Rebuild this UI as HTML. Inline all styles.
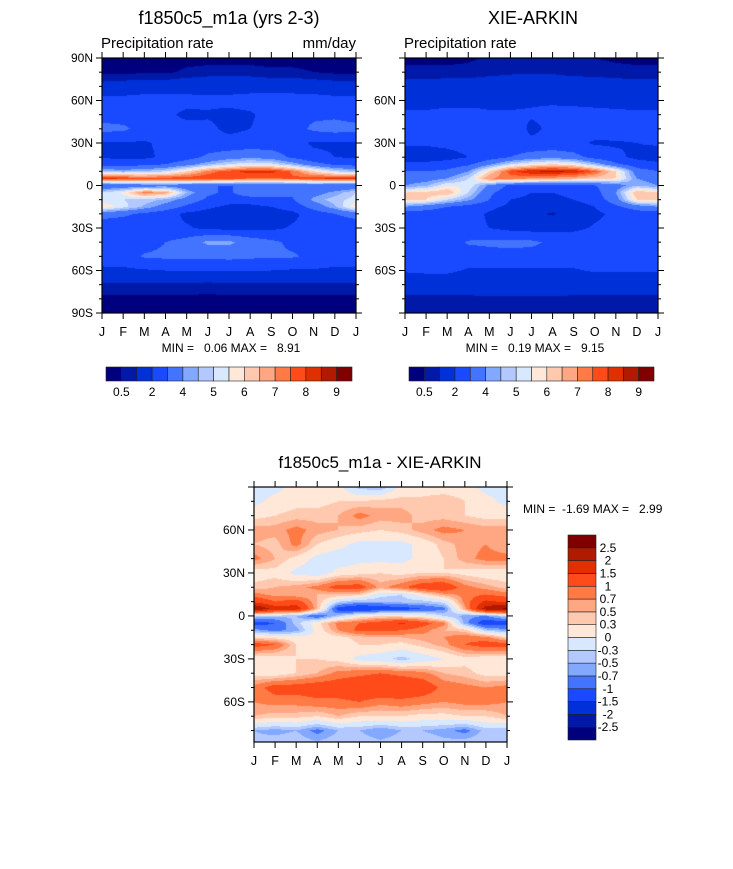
<!DOCTYPE html>
<html><head><meta charset="utf-8">
<style>
html,body{margin:0;padding:0;background:#fff;}
body{width:733px;height:869px;position:relative;overflow:hidden;font-family:"Liberation Sans",Arial,sans-serif;}
svg{position:absolute;left:0;top:0;}
svg text{white-space:pre;}
canvas{position:absolute;}
</style></head>
<body>
<canvas id="c1" style="left:102px;top:58px" width="254" height="255"></canvas>
<canvas id="c2" style="left:405px;top:58px" width="253" height="255"></canvas>
<canvas id="c3" style="left:254px;top:487px" width="253" height="255"></canvas>
<svg id="ov" width="733" height="869"></svg>
<script>
const months = ["J","F","M","A","M","J","J","A","S","O","N","D","J"];
const lats = [90,80,70,60,50,40,30,20,15,10,5,0,-5,-10,-15,-20,-30,-40,-50,-60,-70,-80,-90];
const precipLevels = [0.5,1,2,3,4,4.5,5,5.5,6,6.5,7,7.5,8,8.5,9];
const precipLabels = ["0.5","","2","","4","","5","","6","","7","","8","","9"];
const diffLevels = [-2.5,-2,-1.5,-1,-0.7,-0.5,-0.3,0,0.3,0.5,0.7,1,1.5,2,2.5];
const diffLabels = ["-2.5","-2","-1.5","-1","-0.7","-0.5","-0.3","0","0.3","0.5","0.7","1","1.5","2","2.5"];
const colors = ["#00007f","#0019a8","#0030d8","#1a4aff","#4274ff","#82a8ff","#b2c8ff","#d8e8ff","#ffe8d8","#ffc9b0","#ffa782","#ff7a44","#ff4a1a","#e03000","#b01a00","#800000"];
const modelVals = [
[0.3,0.3,0.3,0.3,0.3,0.3,0.3,0.3,0.3,0.3,0.3,0.3],
[0.4,0.4,0.4,0.4,0.6,0.7,0.7,0.7,0.6,0.6,0.5,0.4],
[1.3,1.4,1.5,1.5,1.6,1.7,1.7,1.7,1.6,1.6,1.5,1.4],
[2.3,2.3,2.4,2.4,2.3,2.2,2.2,2.3,2.4,2.4,2.4,2.3],
[2.6,2.5,2.4,2.2,1.8,1.9,1.8,1.9,2.3,2.5,2.8,2.8],
[3.3,3.2,2.6,2.4,2.3,2.2,1.8,2.0,2.3,2.6,3.2,3.4],
[1.9,1.9,1.9,2.2,2.5,2.4,2.3,2.4,2.4,2.2,1.9,1.9],
[1.9,1.8,1.8,2.2,2.6,3.2,3.6,3.8,3.6,2.8,2.2,2.0],
[2.6,2.6,2.7,3.0,3.6,4.4,5.0,5.4,5.2,4.4,3.4,2.8],
[4.6,4.4,4.6,5.0,6.0,7.2,7.8,8.2,8.2,7.4,6.0,5.0],
[8.2,8.0,7.8,7.8,7.9,8.0,7.8,7.5,7.5,7.6,7.9,8.2],
[3.0,3.2,3.4,3.6,3.2,3.0,3.0,3.0,3.0,3.2,3.2,3.0],
[5.0,5.6,7.2,6.8,4.5,3.2,2.8,3.8,3.8,3.2,3.6,4.2],
[5.2,5.0,4.8,4.4,3.6,2.8,2.4,2.4,2.6,2.9,4.2,4.8],
[6.0,5.2,4.4,3.6,2.8,2.2,1.8,1.8,2.0,2.4,3.4,4.4],
[3.4,3.2,2.8,2.4,1.8,1.6,1.4,1.5,1.6,1.8,2.4,3.0],
[2.3,2.3,2.2,2.2,2.1,1.8,1.7,1.7,1.8,2.1,2.2,2.2],
[2.4,2.5,2.6,3.0,3.4,4.2,4.2,3.6,3.2,2.8,2.6,2.5],
[2.5,2.6,3.1,3.2,3.2,3.2,3.3,3.2,3.1,3.1,2.8,2.6],
[1.8,1.8,1.9,2.0,2.0,2.0,2.0,2.0,2.0,1.9,1.9,1.8],
[0.9,0.9,0.9,0.9,0.9,0.8,0.9,0.9,0.9,0.9,0.9,0.9],
[0.35,0.35,0.35,0.35,0.35,0.35,0.35,0.35,0.35,0.35,0.35,0.35],
[0.3,0.3,0.3,0.3,0.3,0.3,0.3,0.3,0.3,0.3,0.3,0.3]];
const obsVals = [
[0.3,0.3,0.3,0.4,0.6,0.7,0.8,0.7,0.6,0.5,0.4,0.3],
[0.7,0.7,0.7,0.7,0.8,0.9,0.9,0.9,0.8,0.8,0.7,0.7],
[1.3,1.3,1.4,1.4,1.5,1.5,1.6,1.6,1.5,1.4,1.4,1.3],
[1.6,1.6,1.7,1.7,1.8,1.8,1.9,1.9,1.8,1.7,1.7,1.6],
[2.2,2.2,2.3,2.3,2.1,2.1,2.1,2.2,2.3,2.3,2.2,2.2],
[2.4,2.3,2.3,2.3,2.4,2.6,1.8,2.2,2.5,2.4,2.5,2.5],
[2.1,2.1,2.2,2.3,2.4,2.3,2.2,2.3,2.2,1.9,1.9,2.0],
[1.6,1.6,1.7,2.0,2.5,3.0,3.5,3.7,3.4,2.6,2.2,1.8],
[2.2,2.2,2.4,2.8,3.8,5.0,5.6,6.0,5.6,4.5,3.2,2.4],
[3.0,3.0,3.2,4.0,6.0,7.8,8.5,8.6,8.5,7.6,6.0,3.5],
[3.5,3.6,4.0,5.0,7.0,7.2,7.0,6.8,6.6,6.2,6.0,4.0],
[4.0,4.4,5.5,5.4,3.8,2.8,2.5,2.5,2.6,3.0,3.5,4.5],
[6.0,6.2,6.5,5.0,3.2,2.4,2.0,2.0,2.2,2.6,4.0,6.5],
[6.0,6.0,5.0,4.2,3.0,2.0,1.8,1.8,2.0,2.4,3.6,6.0],
[4.0,3.5,3.0,2.6,2.2,1.8,1.6,1.4,1.6,2.0,2.8,3.5],
[2.5,2.5,2.4,2.3,1.9,1.5,1.2,0.9,1.4,1.8,2.2,2.5],
[2.3,2.3,2.3,2.2,2.0,1.7,1.6,1.7,1.8,2.1,2.3,2.3],
[2.4,2.5,2.6,3.1,3.2,3.3,3.2,2.8,2.6,2.5,2.4,2.4],
[2.5,2.5,2.5,2.5,2.6,2.6,2.6,2.6,2.5,2.6,2.6,2.5],
[2.1,2.2,2.2,1.9,1.9,1.9,1.9,1.9,1.9,2.1,2.1,2.1],
[1.3,1.3,1.3,1.3,1.4,1.4,1.4,1.4,1.3,1.3,1.3,1.3],
[0.9,0.9,0.9,0.9,0.9,0.9,0.9,0.9,0.9,0.9,0.9,0.9],
[0.5,0.5,0.5,0.5,0.6,0.6,0.5,0.6,0.6,0.5,0.5,0.5]];
const diffVals = [
[-0.1,-0.1,0.1,0.1,0.1,-0.4,-0.5,0.1,0.1,0.1,0.1,-0.1],
[-0.1,0.1,0.2,0.2,0.3,0.3,0.4,0.4,0.4,0.5,0.3,0.1],
[0.2,0.3,0.4,0.4,0.5,0.8,0.6,0.6,0.4,0.4,0.3,0.2],
[0.6,0.6,0.8,0.6,0.5,0.4,0.3,0.4,0.6,0.8,0.7,0.6],
[0.5,0.4,0.8,0.3,0.1,-0.1,-0.1,-0.1,0.1,0.4,0.6,0.7],
[0.8,0.5,0.2,-0.1,-0.2,-0.1,-0.1,-0.1,0.1,0.3,0.6,0.8],
[0.1,0.2,-0.1,-0.2,0.1,0.2,0.3,0.2,0.3,0.3,0.2,0.1],
[0.4,0.5,0.6,0.8,1.2,1.2,0.6,0.9,1.3,1.4,0.8,0.6],
[0.8,0.6,0.5,0.5,0.5,0.4,-0.2,-0.3,0.2,0.6,0.8,1.0],
[1.4,1.0,1.2,0.5,-0.3,-0.5,-0.5,-0.4,-0.4,-0.2,0.8,1.6],
[2.6,1.8,1.8,0.5,-1.2,-1.5,-1.3,-1.2,-1.0,-0.8,0.6,2.3],
[-0.3,-0.4,-0.5,-1.0,-0.4,0.1,0.3,0.2,0.1,-0.3,-0.6,-0.7],
[-1.2,-1.0,-0.4,0.2,0.8,1.0,1.2,1.6,1.2,0.8,-0.6,-1.3],
[-0.6,-0.8,-0.6,0.1,0.7,1.1,1.1,1.0,0.8,0.5,0.4,-0.4],
[0.3,0.2,0.1,0.1,0.2,0.4,0.5,0.5,0.6,0.7,0.9,0.8],
[1.2,1.0,0.3,0.2,0.1,0.3,0.3,0.2,0.4,0.6,1.0,1.2],
[0.1,0.1,0.3,0.3,0.2,-0.1,-0.2,-0.4,-0.2,0.0,0.2,0.1],
[0.2,0.1,0.3,0.5,0.8,0.9,1.0,0.9,0.8,0.5,0.4,0.2],
[0.8,1.2,1.2,1.3,1.3,1.4,1.5,1.4,1.3,0.9,0.8,0.7],
[0.7,0.8,0.8,0.9,0.9,1.0,0.8,0.9,0.8,0.7,0.8,0.8],
[0.5,0.4,0.4,0.3,0.5,0.3,0.3,0.3,0.2,0.2,0.3,0.3],
[-0.5,-0.6,-0.5,-0.8,-0.5,-0.5,-0.7,-0.5,-0.5,-0.6,-0.8,-0.4],
[-0.4,-0.3,-0.3,-0.4,-0.3,-0.3,-0.4,-0.3,-0.3,-0.4,-0.3,-0.3]];

function levelIndex(v, levels){let i=0;while(i<levels.length && v>=levels[i])i++;return i;}
function hex(c){return [parseInt(c.substr(1,2),16),parseInt(c.substr(3,2),16),parseInt(c.substr(5,2),16)];}
const rgb = colors.map(hex);
function sample(vals, lat, m){
  let r=0; while(r<lats.length-2 && lat<lats[r+1]) r++;
  const t=(lats[r]-lat)/(lats[r]-lats[r+1]);
  const c0=Math.floor(m)%12, c1=(c0+1)%12, u=m-Math.floor(m);
  const a=vals[r][c0]*(1-u)+vals[r][c1]*u;
  const b=vals[r+1][c0]*(1-u)+vals[r+1][c1]*u;
  return a*(1-t)+b*t;
}
function drawField(id, vals, levels, latTop, latBot){
  const cv=document.getElementById(id), ctx=cv.getContext('2d');
  const W=cv.width,H=cv.height, img=ctx.createImageData(W,H);
  for(let y=0;y<H;y++){
    const lat=latTop+(latBot-latTop)*(y+0.5)/H;
    for(let x=0;x<W;x++){
      const m=12*(x+0.5)/W;
      const k=levelIndex(sample(vals,lat,m),levels);
      const p=(y*W+x)*4;
      img.data[p]=rgb[k][0];img.data[p+1]=rgb[k][1];img.data[p+2]=rgb[k][2];img.data[p+3]=255;
    }
  }
  ctx.putImageData(img,0,0);
}
drawField('c1',modelVals,precipLevels,90,-90);
drawField('c2',obsVals,precipLevels,90,-90);
drawField('c3',diffVals,diffLevels,90,-88);

const NS="http://www.w3.org/2000/svg", ov=document.getElementById('ov');
function el(tag,attrs,parent){const e=document.createElementNS(NS,tag);for(const k in attrs)e.setAttribute(k,attrs[k]);(parent||ov).appendChild(e);return e;}
function txt(x,y,s,size,anchor,name){
  const t=el('text',{x:x,y:y,'font-size':size,'text-anchor':anchor||'middle','font-family':'Liberation Sans, Arial, sans-serif',fill:'#000'});
  t.textContent=s;
  
  
  return t;
}
function axes(x0,y0,w,h,latTop,latBot,labels,prefix){
  const g=el('g',{});
  
  
  el('rect',{x:x0,y:y0,width:w,height:h,fill:'none',stroke:'#000','stroke-width':1.2},g);
  const ly=lat=>y0+h*(latTop-lat)/(latTop-latBot);
  for(let lat=90;lat>=-90;lat-=10){
    if(lat>latTop+0.01||lat<latBot-0.01)continue;
    const major=lat%30===0, L=major?6:3, y=ly(lat);
    el('line',{x1:x0-L,y1:y,x2:x0,y2:y,stroke:'#000','stroke-width':1},g);
    el('line',{x1:x0+w,y1:y,x2:x0+w+L,y2:y,stroke:'#000','stroke-width':1},g);
  }
  labels.forEach(l=>{txt(x0-9,ly(l.lat)+4,l.s,12,'end',prefix+'-lat-label-'+l.s.toLowerCase());});
  for(let i=0;i<=12;i++){
    const x=x0+w*i/12;
    el('line',{x1:x,y1:y0-6,x2:x,y2:y0,stroke:'#000','stroke-width':1},g);
    el('line',{x1:x,y1:y0+h,x2:x,y2:y0+h+6,stroke:'#000','stroke-width':1},g);
    txt(x,y0+h+23,months[i],12.5,'middle',prefix+'-month-label');
  }
}
function hbar(x0,y0,w,h,labels,prefix){
  const n=colors.length,bw=w/n;
  colors.forEach((c,i)=>{
    const r=el('rect',{x:x0+i*bw,y:y0,width:bw,height:h,fill:c,stroke:'#222','stroke-width':0.6});
    
    
  });
  labels.forEach((s,i)=>{if(s)txt(x0+(i+1)*bw,y0+h+15,s,12,'middle',prefix+'-colorbar-label');});
}
function vbar(x0,y0,w,h,labels,prefix){
  const n=colors.length,bh=h/n;
  colors.forEach((c,i)=>{
    const r=el('rect',{x:x0,y:y0+(n-1-i)*bh,width:w,height:bh,fill:c,stroke:'#222','stroke-width':0.6});
    
    
  });
  labels.forEach((s,i)=>{txt(x0+w+12,y0+(n-1-i)*bh+4,s,12,'middle',prefix+'-colorbar-label');});
}
axes(102,58,254,255,90,-90,[{lat:90,s:"90N"},{lat:60,s:"60N"},{lat:30,s:"30N"},{lat:0,s:"0"},{lat:-30,s:"30S"},{lat:-60,s:"60S"},{lat:-90,s:"90S"}],'model');
axes(405,58,253,255,90,-90,[{lat:60,s:"60N"},{lat:30,s:"30N"},{lat:0,s:"0"},{lat:-30,s:"30S"},{lat:-60,s:"60S"}],'obs');
axes(254,487,253,255,90,-88,[{lat:60,s:"60N"},{lat:30,s:"30N"},{lat:0,s:"0"},{lat:-30,s:"30S"},{lat:-60,s:"60S"}],'diff');
hbar(106,367,246,14,precipLabels,'model');
hbar(409,367,245,14,precipLabels,'obs');
vbar(568,535,28,205,diffLabels,'diff');
txt(229,24,"f1850c5_m1a (yrs 2-3)",18,'middle','model-title');
txt(533,24,"XIE-ARKIN",18,'middle','obs-title');
txt(380,468,"f1850c5_m1a - XIE-ARKIN",17,'middle','diff-title');
txt(101,48,"Precipitation rate",15,'start','model-subtitle');
txt(356,48,"mm/day",15,'end','model-units');
txt(404,48,"Precipitation rate",15,'start','obs-subtitle');
txt(231,352,"MIN =   0.06 MAX =   8.91",12,'middle','model-min-max');
txt(535,352,"MIN =   0.19 MAX =   9.15",12,'middle','obs-min-max');
txt(523,513,"MIN =  -1.69 MAX =   2.99",12,'start','diff-min-max');
</script>
</body></html>
